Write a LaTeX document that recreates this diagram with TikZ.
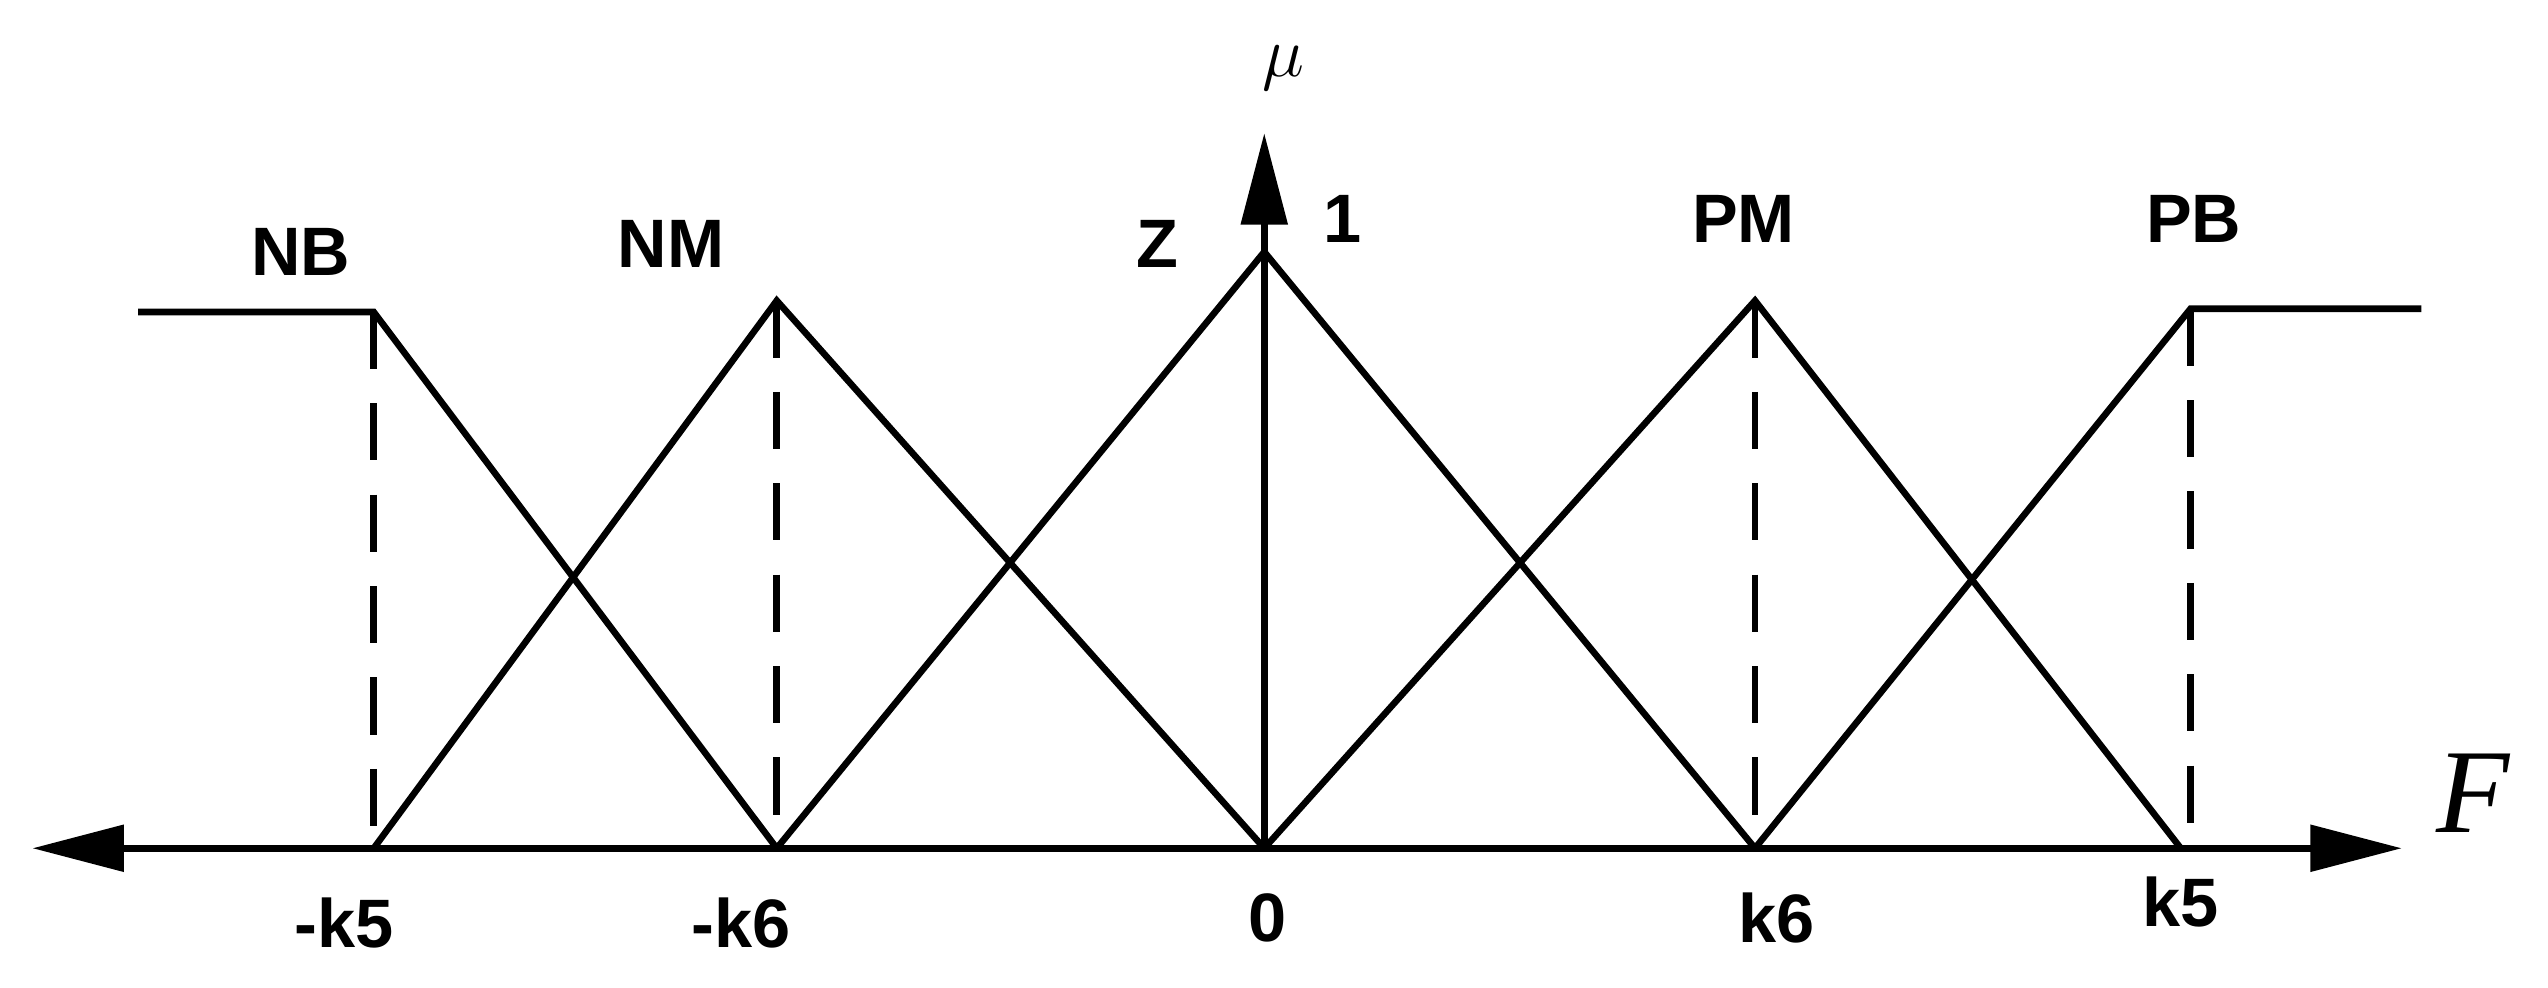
\documentclass[tikz,border=0pt]{standalone}
\usepackage{fontspec}
\setmainfont{Liberation Sans}
\newfontfamily\serifit{Liberation Serif}
\usetikzlibrary{arrows.meta}
\begin{document}
\begin{tikzpicture}[x=0.02cm,y=-0.02cm,
  mf/.style={line width=2.3pt,line join=miter},
  dsh/.style={line width=2.3pt,dash pattern=on 20pt off 12pt},
  ax/.style={line width=2.3pt,-{Triangle[length=32pt,width=16pt]}},
  lb/.style={font=\fontsize{24}{28}\selectfont\bfseries,inner sep=0pt}]
\useasboundingbox (0,0) rectangle (1568,608);
\coordinate (o) at (778,522);
\coordinate (l) at (20,522);
\coordinate (r) at (1478,522);
\coordinate (t) at (778,82);
\draw[ax] (o) -- (r);
\draw[ax] (o) -- (l);
\draw[ax] (o) -- (t);
\coordinate (a1) at (85,192);
\coordinate (a2) at (230,192);
\coordinate (b0) at (230,522);
\coordinate (c0) at (478,522);
\coordinate (c1) at (478,185);
\coordinate (z1) at (778,155);
\coordinate (d0) at (1080,522);
\coordinate (d1) at (1080,185);
\coordinate (e0) at (1342,522);
\coordinate (e1) at (1348,190);
\coordinate (e2) at (1490,190);
\coordinate (e3) at (1348,522);
\draw[mf] (a1) -- (a2) -- (c0);
\draw[mf] (b0) -- (c1) -- (o);
\draw[mf] (c0) -- (z1) -- (d0);
\draw[mf] (o) -- (d1) -- (e0);
\draw[mf] (d0) -- (e1) -- (e2);
\draw[dsh] (a2) -- (b0);
\draw[dsh] (c1) -- (c0);
\draw[dsh] (d1) -- (d0);
\draw[dsh] (e1) -- (e3);
\node[lb] (nb) at (185,155) {NB};
\node[lb] (nm) at (413,150) {NM};
\node[lb] (z) at (712,150) {Z};
\node[lb] (one) at (826,135) {1};
\node[lb] (pm) at (1073,135) {PM};
\node[lb] (pb) at (1350,135) {PB};
\node[lb] (m5) at (212,568) {-k5};
\node[lb] (m6) at (456,568) {-k6};
\node[lb] (zero) at (780,565) {0};
\node[lb] (p6) at (1093,565) {k6};
\node[lb] (p5) at (1342,555) {k5};
\node[inner sep=0pt,font=\fontsize{34}{38}\selectfont\serifit\itshape] (mu) at (790,42) {$\mu$};
\node[inner sep=0pt,font=\fontsize{42}{46}\selectfont\serifit\itshape] (F) at (1522,488) {F};
\end{tikzpicture}
\end{document}
